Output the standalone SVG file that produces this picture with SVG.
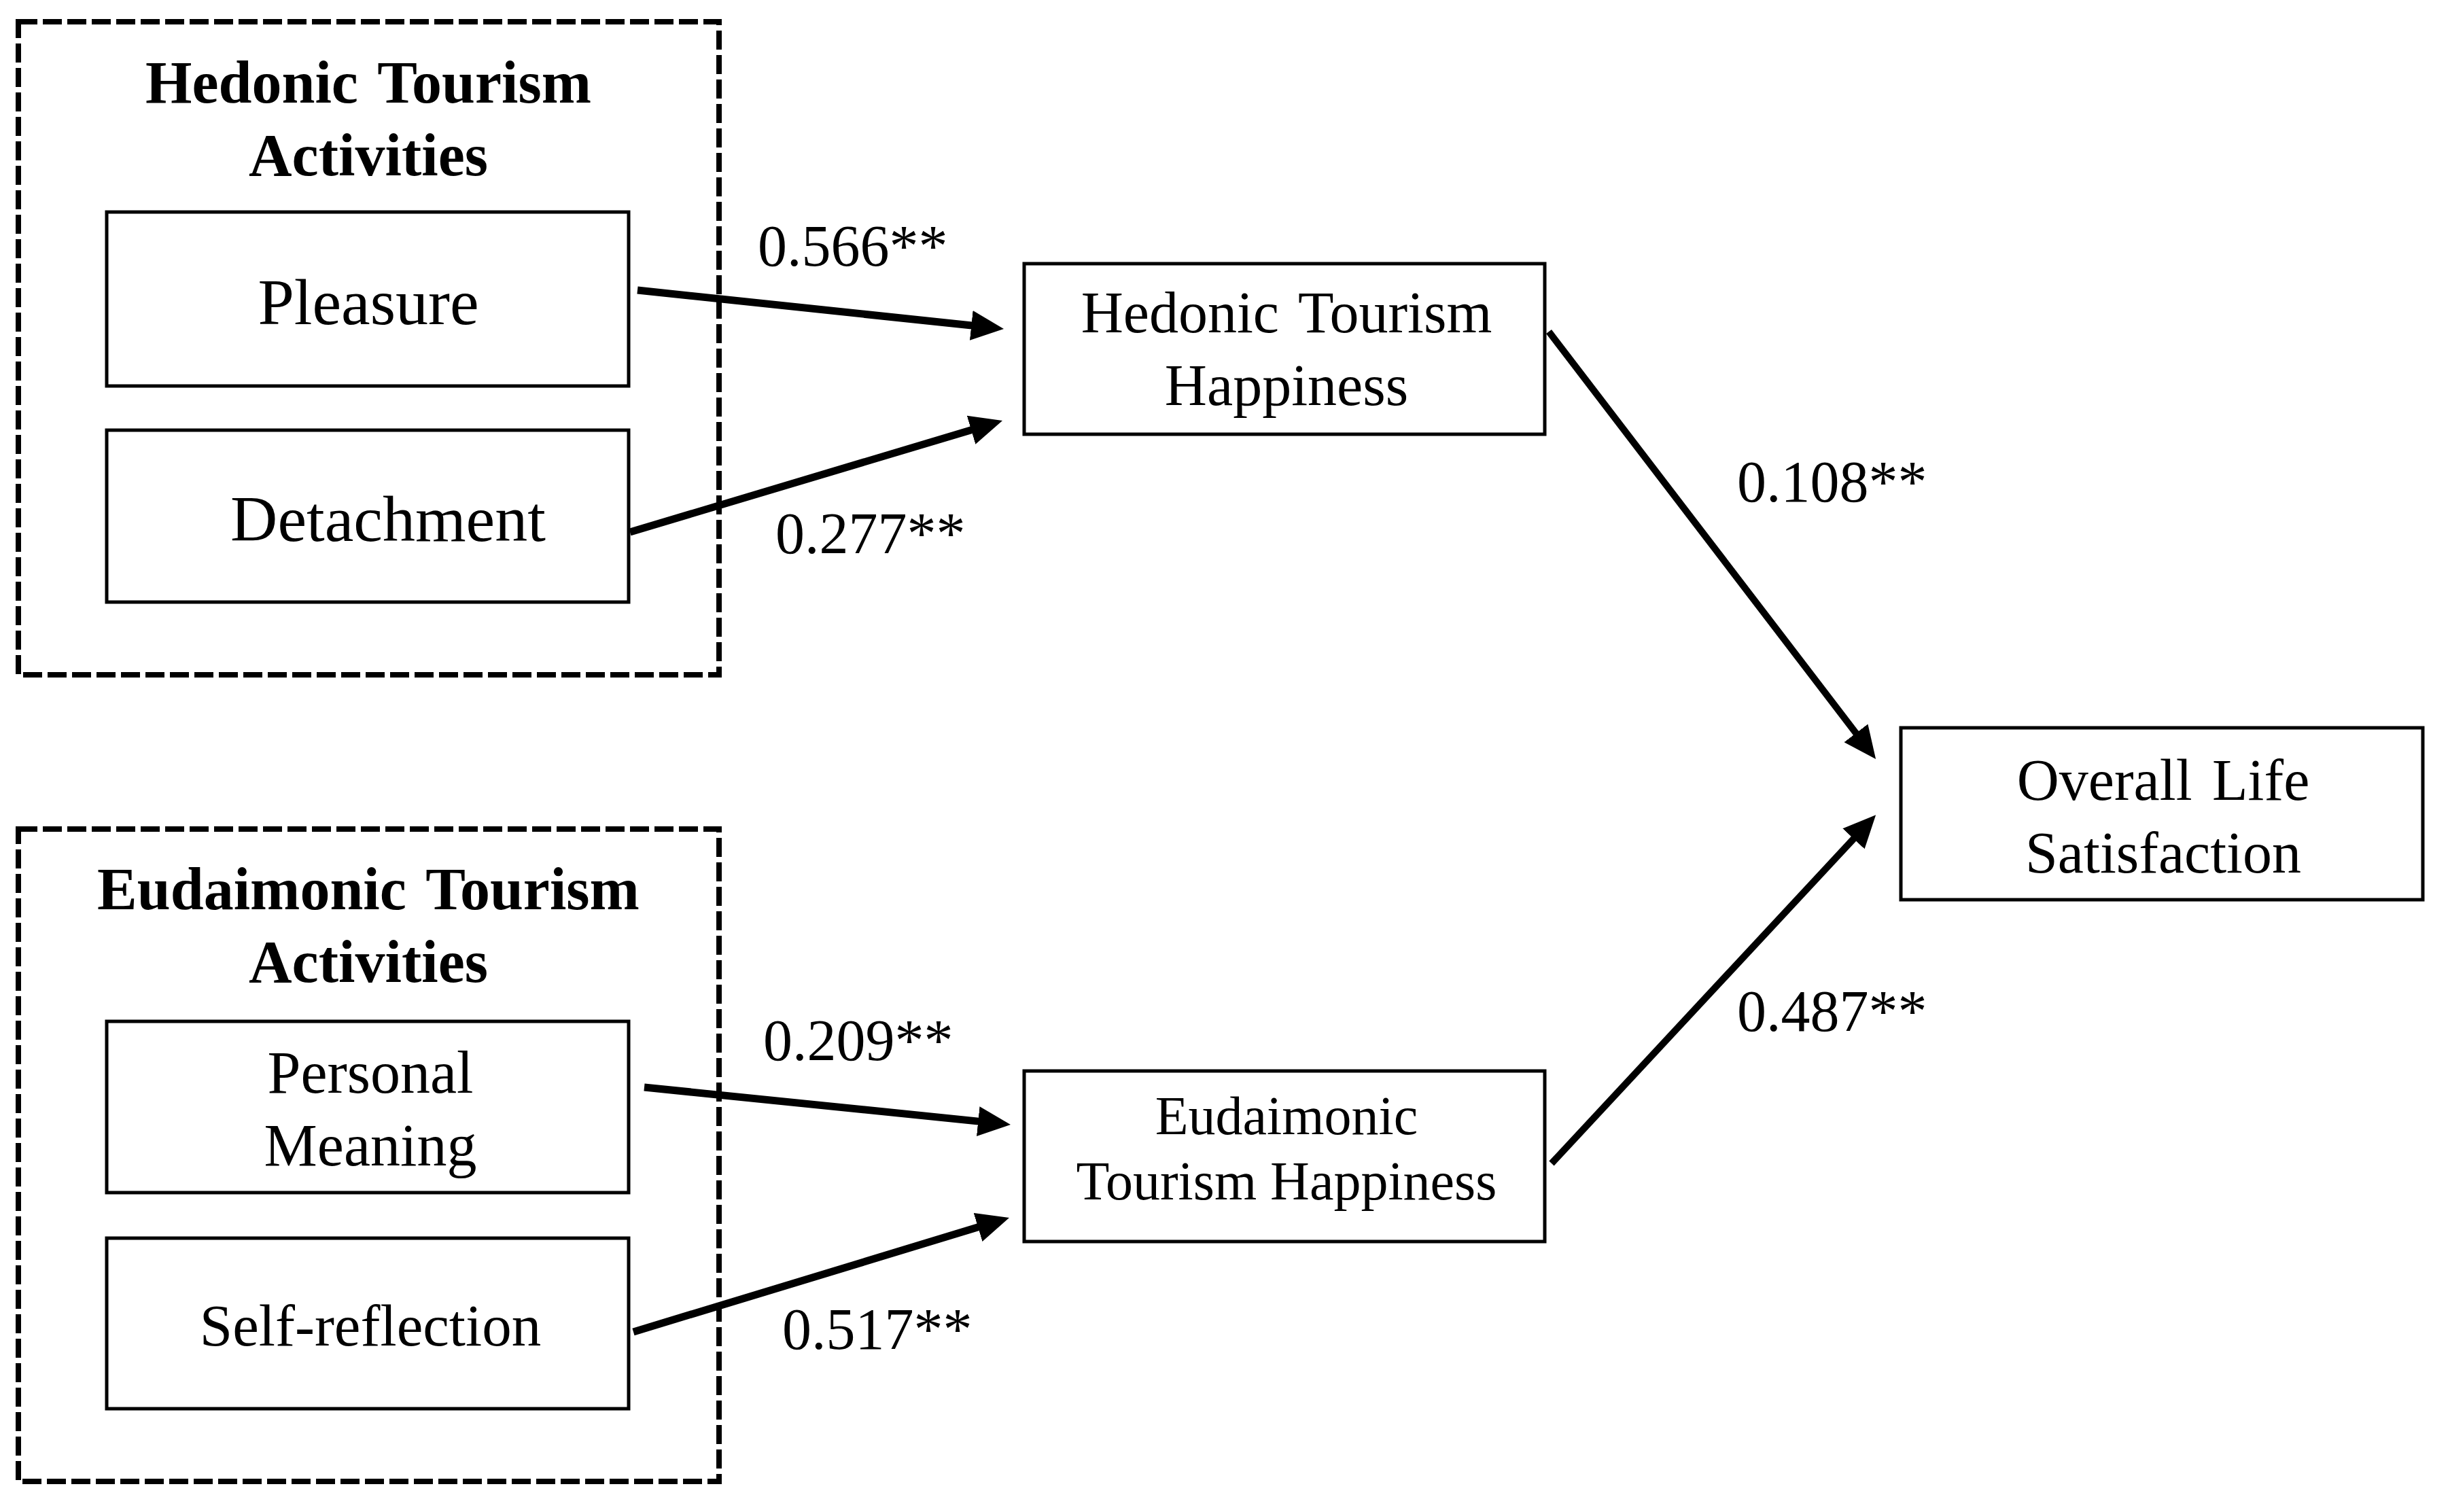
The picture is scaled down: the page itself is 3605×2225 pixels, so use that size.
<svg xmlns="http://www.w3.org/2000/svg" width="3605" height="2225" viewBox="0 0 3605 2225">
<style>
.bg{fill:#ffffff}
.group{fill:none;stroke:#000;stroke-width:8;stroke-dasharray:28 8}
.box{fill:#fff;stroke:#000;stroke-width:5}
.t{font-family:"Liberation Serif","Times New Roman",serif;fill:#000;text-anchor:middle}
.b{font-weight:bold;font-size:88px;word-spacing:8px}
.n96{font-size:96px}
.n88{font-size:88px}
.n87{font-size:87px}
.n86{font-size:86px;word-spacing:8px}
.n80{font-size:80px}
.lbl{font-family:"Liberation Serif","Times New Roman",serif;font-size:86px;fill:#000}
.edge{stroke:#000;stroke-width:11;fill:none;marker-end:url(#ah)}
.edge2{stroke:#000;stroke-width:10;fill:none;marker-end:url(#ah)}
</style>
<defs>
<marker id="ah" markerUnits="userSpaceOnUse" markerWidth="48" markerHeight="44" refX="8" refY="22" orient="auto" viewBox="0 0 48 44">
<path d="M0,0 L48,22 L0,44 z" fill="#000"/>
</marker>
</defs>
<rect class="bg" x="0" y="0" width="3605" height="2225"/>

<g id="hedonic-activities">
<rect class="group" x="27" y="32" width="1031" height="961"/>
<text class="t b" x="542" y="151">Hedonic Tourism</text>
<text class="t b" x="542" y="258">Activities</text>
</g>
<g id="pleasure">
<rect class="box" x="157" y="312" width="768" height="256"/>
<text class="t n96" x="542" y="477">Pleasure</text>
</g>
<g id="detachment">
<rect class="box" x="157" y="633" width="768" height="253"/>
<text class="t n96" x="571" y="796">Detachment</text>
</g>

<g id="eudaimonic-activities">
<rect class="group" x="27" y="1220" width="1031" height="960"/>
<text class="t b" x="542" y="1338">Eudaimonic Tourism</text>
<text class="t b" x="542" y="1445">Activities</text>
</g>
<g id="personal-meaning">
<rect class="box" x="157" y="1503" width="768" height="252"/>
<text class="t n88" x="545" y="1608">Personal</text>
<text class="t n88" x="545" y="1715">Meaning</text>
</g>
<g id="self-reflection">
<rect class="box" x="157" y="1822" width="768" height="251"/>
<text class="t n87" x="545" y="1980">Self-reflection</text>
</g>

<g id="hedonic-happiness">
<rect class="box" x="1507" y="388" width="766" height="251"/>
<text class="t n86" x="1893" y="489">Hedonic Tourism</text>
<text class="t n86" x="1893" y="596">Happiness</text>
</g>
<g id="eudaimonic-happiness">
<rect class="box" x="1507" y="1576" width="766" height="251"/>
<text class="t n80" x="1893" y="1669">Eudaimonic</text>
<text class="t n80" x="1893" y="1765">Tourism Happiness</text>
</g>
<g id="life-satisfaction">
<rect class="box" x="2797" y="1071" width="768" height="253"/>
<text class="t n86" x="3183" y="1177">Overall Life</text>
<text class="t n86" x="3183" y="1284">Satisfaction</text>
</g>

<g id="connectors">
<line class="edge" x1="938" y1="427" x2="1437.2" y2="479.8"/>
<line class="edge" x1="927" y1="783" x2="1436.7" y2="630.5"/>
<line class="edge" x1="948" y1="1600" x2="1447.2" y2="1650.9"/>
<line class="edge" x1="932" y1="1960" x2="1446.7" y2="1803.6"/>
<line class="edge2" x1="2279" y1="488" x2="2735.8" y2="1085.2"/>
<line class="edge2" x1="2283" y1="1712" x2="2732.9" y2="1228.5"/>
<text class="lbl" x="1115" y="391">0.566**</text>
<text class="lbl" x="1141" y="814">0.277**</text>
<text class="lbl" x="1123" y="1560">0.209**</text>
<text class="lbl" x="1151" y="1985">0.517**</text>
<text class="lbl" x="2556" y="738">0.108**</text>
<text class="lbl" x="2556" y="1517">0.487**</text>
</g>
</svg>
